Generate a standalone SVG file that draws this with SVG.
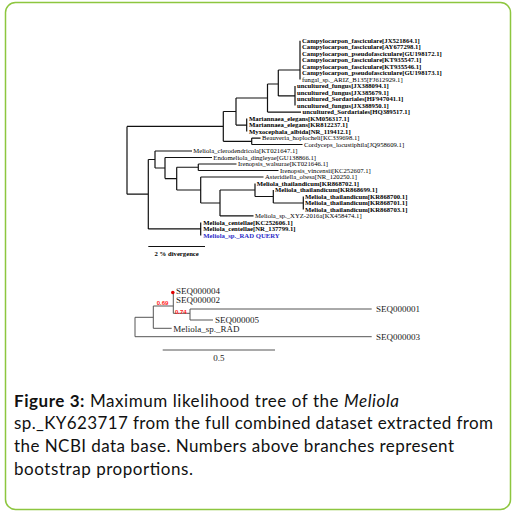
<svg xmlns="http://www.w3.org/2000/svg" width="513" height="511" viewBox="0 0 513 511">
<style>
.t{font-family:"Liberation Serif","Times New Roman",serif;font-size:6.7px;fill:#000}
.b{font-weight:bold}
.q{fill:#2b2bc8}
.s{font-family:"Liberation Serif","Times New Roman",serif;font-size:9px;fill:#1a1a1a}
.bs{font-family:"Liberation Sans",Arial,sans-serif;font-size:6px;font-weight:bold;fill:#ff2020}
.cap{font-family:Lato,"Open Sans",sans-serif;font-size:17px;fill:#111}
.tree{fill:none;stroke:#111;stroke-width:1.2}
.tree2{fill:none;stroke:#555;stroke-width:1}
</style>
<rect x="0" y="0" width="513" height="511" fill="#fff"/>
<rect id="frame" x="5.5" y="2.5" width="505" height="507" rx="10" fill="none" stroke="#8dc63f" stroke-width="1.5"/>

<g id="connectors">
<path class="tree" d="M127 126.4V194.2M127 126.4H223.3M127 194.2H148.3
M223.3 111.5V141.3M223.3 111.5H236M223.3 141.3H251.7
M236 98V125.1M236 98H267.5M236 125.1H246.7
M267.5 84V112.1M267.5 84H278.3M267.5 112.1H301
M278.3 70V95.9M278.3 70H300M278.3 95.9H295
M300 40.7V79.6M295 86.1V105.6M246.7 118.6V131.6
M251.7 138.1V144.5M251.7 138.1H260.5M251.7 144.5H302.5
M148.3 159.5V228.9M148.3 159.5H155M148.3 228.9H200.7
M155 151V168M155 151H192M155 168H165
M165 157.5V178.6M165 157.5H212M165 178.6H176.7
M176.7 167.25V190M176.7 167.25H198.3M176.7 190H200.7
M198.3 164V170.5M198.3 164H236.5M198.3 170.5H278.5
M200.7 177V203M200.7 177H263.5M200.7 203H220
M220 190V215.9M220 190H255M220 215.9H253.5
M255 183.5V196.5M255 196.5H273.3
M273.3 190V203M273.3 203H303.3
M303.3 196.5V209.4M200.7 222.4V235.4"/>
<path class="tree" d="M148.3 246.5H205"/>
<path class="tree2" d="M135 317.3V336.7M135 336.7H371.7M135 317.3H153.3
M153.3 306V328.3M153.3 328.3H171.7M153.3 306H173.3
M173.3 292.5V313.3M173.3 313.3H190
M190 309V320M190 309H371.7M190 320H213"/>
<path class="tree2" d="M162.7 350H275"/>
</g>

<g id="tree1-leaves">
<text class="t b" x="302" y="42.9">Campylocarpon_fasciculare[JX521864.1]</text>
<text class="t b" x="302" y="49.4">Campylocarpon_fasciculare[AY677298.1]</text>
<text class="t b" x="302" y="55.9">Campylocarpon_pseudofasciculare[GU198172.1]</text>
<text class="t b" x="302" y="62.4">Campylocarpon_fasciculare[KT935547.1]</text>
<text class="t b" x="302" y="68.9">Campylocarpon_fasciculare[KT935546.1]</text>
<text class="t b" x="302" y="75.4">Campylocarpon_pseudofasciculare[GU198173.1]</text>
<text class="t" x="302" y="81.8">fungal_sp._ARIZ_B135[FJ612929.1]</text>
<text class="t b" x="297" y="88.3">uncultured_fungus[JX388094.1]</text>
<text class="t b" x="297" y="94.8">uncultured_fungus[JX385679.1]</text>
<text class="t b" x="297" y="101.3">uncultured_Sordariales[HF947041.1]</text>
<text class="t b" x="297" y="107.8">uncultured_fungus[JX388950.1]</text>
<text class="t b" x="302.5" y="114.3">uncultured_Sordariales[HQ389517.1]</text>
<text class="t b" x="249" y="120.8">Mariannaea_elegans[KM056317.1]</text>
<text class="t b" x="249" y="127.3">Mariannaea_elegans[KR812237.1]</text>
<text class="t b" x="249" y="133.8">Myxocephala_albida[NR_119412.1]</text>
<text class="t" x="262" y="140.3">Beauveria_hoplocheli[KC339698.1]</text>
<text class="t" x="304" y="146.7">Cordyceps_locustiphila[JQ958609.1]</text>
<text class="t" x="193.3" y="153.2">Meliola_clerodendricola[KT021647.1]</text>
<text class="t" x="213.3" y="159.7">Endomeliola_dingleyae[GU138866.1]</text>
<text class="t" x="238" y="166.2">Irenopsis_walsurae[KT021646.1]</text>
<text class="t" x="280" y="172.7">Irenopsis_vincensii[KC252607.1]</text>
<text class="t" x="265" y="179.2">Asteridiella_obesa[NR_120250.1]</text>
<text class="t b" x="256.7" y="185.7">Meliola_thailandicum[KR868702.1]</text>
<text class="t b" x="275" y="192.2">Meliola_thailandicum[KR868699.1]</text>
<text class="t b" x="305" y="198.7">Meliola_thailandicum[KR868700.1]</text>
<text class="t b" x="305" y="205.2">Meliola_thailandicum[KR868701.1]</text>
<text class="t b" x="305" y="211.6">Meliola_thailandicum[KR868703.1]</text>
<text class="t" x="255" y="218.1">Meliola_sp._XYZ-2016a[KX458474.1]</text>
<text class="t b" x="203.3" y="224.6">Meliola_centellae[KC252606.1]</text>
<text class="t b" x="203.3" y="231.1">Meliola_centellae[NR_137799.1]</text>
<text class="t b q" x="203.3" y="237.6">Meliola_sp._RAD QUERY</text>
</g>
<g id="scale1"><text class="t b" x="176.7" y="255.5" text-anchor="middle" font-size="6.5">2 % divergence</text></g>

<g id="tree2-leaves">
<circle cx="172.8" cy="292.5" r="1.8" fill="#e00000"/>
<text class="s" x="176" y="294.2">SEQ000004</text>
<text class="s" x="176" y="303.2">SEQ000002</text>
<text class="s" x="376" y="312.2">SEQ000001</text>
<text class="s" x="215" y="323.2">SEQ000005</text>
<text class="s" x="173.3" y="331.5">Meliola_sp._RAD</text>
<text class="s" x="376" y="339.9">SEQ000003</text>
<text class="bs" x="156.7" y="305">0.69</text>
<text class="bs" x="175" y="313.6">0.74</text>
</g>
<g id="scale2"><text class="s" x="218.9" y="360.5" text-anchor="middle" font-size="8">0.5</text></g>

<g id="caption">
<text class="cap" x="14" y="406.7" textLength="385" lengthAdjust="spacing"><tspan font-weight="bold">Figure 3:</tspan> Maximum likelihood tree of the <tspan font-style="italic">Meliola</tspan></text>
<text class="cap" x="14" y="429.4" textLength="479" lengthAdjust="spacing">sp._KY623717 from the full combined dataset extracted from</text>
<text class="cap" x="14" y="452.1" textLength="440" lengthAdjust="spacing">the NCBI data base. Numbers above branches represent</text>
<text class="cap" x="14" y="474.8" textLength="179" lengthAdjust="spacing">bootstrap proportions.</text>
</g>
</svg>
